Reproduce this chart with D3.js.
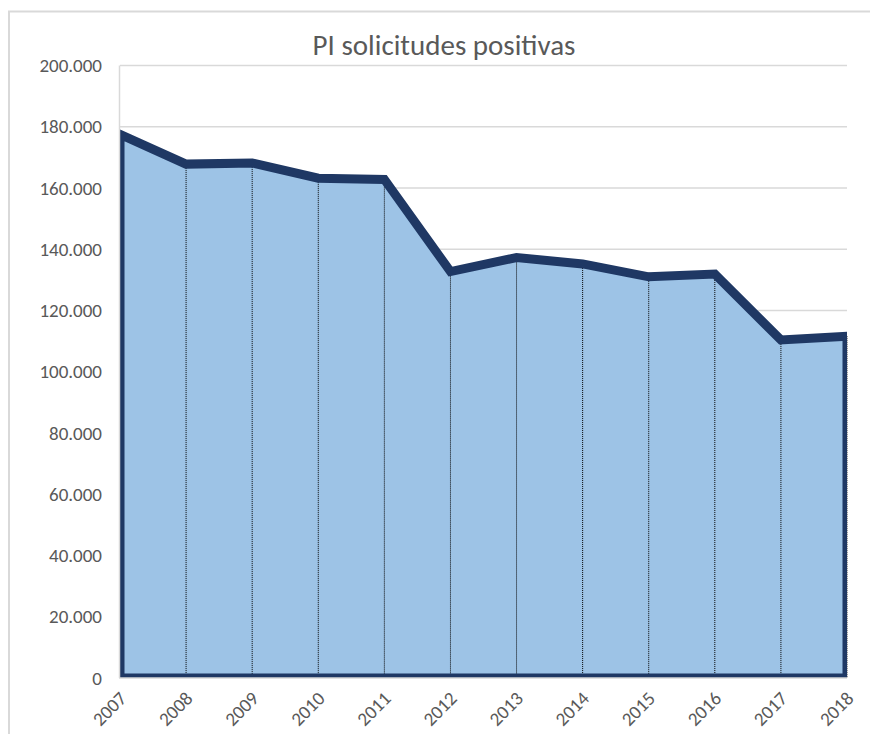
<!DOCTYPE html>
<meta charset="utf-8">
<style>
body { margin: 0; background: #fff; }
text { font-family: Carlito, Calibri, Lato, sans-serif; fill: #595959; }
.grid line { stroke: #d9d9d9; stroke-width: 1.5; }
</style>
<body>
<svg width="870" height="734"></svg>
<script src="https://d3js.org/d3.v7.min.js"></script>
<script>

var years = ["2007", "2008", "2009", "2010", "2011", "2012", "2013", "2014", "2015", "2016", "2017", "2018"];
var solicitudes = [177500, 167800, 168200, 163200, 162800, 132700, 137300, 135200, 131000, 131900, 110400, 111600];
var yTicks = [0, 20000, 40000, 60000, 80000, 100000, 120000, 140000, 160000, 180000, 200000];
var title = "PI solicitudes positivas";

var svg = d3.select("svg");

var plotLeft = 120, plotRight = 847, plotTop = 65.5, plotBottom = 678;

var x = d3.scalePoint()
    .domain(years)
    .range([plotLeft, plotRight]);

var y = d3.scaleLinear()
    .domain([0, 200000])
    .range([plotBottom, plotTop]);

var fmt = d3.formatLocale({ decimal: ",", thousands: ".", grouping: [3], currency: ["", ""] }).format(",d");

// chart frame (only top and left edges show in the crop)
svg.append("path")
    .attr("d", "M9,734V11.5H870")
    .attr("fill", "none")
    .attr("stroke", "#d9d9d9")
    .attr("stroke-width", 2);

svg.append("text")
    .attr("x", 444)
    .attr("y", 55)
    .attr("text-anchor", "middle")
    .attr("font-size", 29)
    .text(title);

svg.append("g")
    .attr("class", "grid")
  .selectAll("line")
  .data(yTicks.slice(1))
  .enter().append("line")
    .attr("x1", plotLeft)
    .attr("x2", plotRight)
    .attr("y1", function(d) { return y(d); })
    .attr("y2", function(d) { return y(d); });

svg.append("g")
  .selectAll("text")
  .data(yTicks)
  .enter().append("text")
    .attr("x", 102)
    .attr("y", function(d) { return y(d); })
    .attr("dy", "0.35em")
    .attr("text-anchor", "end")
    .attr("font-size", 19)
    .text(function(d) { return fmt(d); });

svg.append("defs").append("clipPath")
    .attr("id", "plot")
  .append("rect")
    .attr("x", plotLeft)
    .attr("y", 0)
    .attr("width", plotRight - plotLeft)
    .attr("height", plotBottom);

var area = d3.area()
    .x(function(d, i) { return x(years[i]); })
    .y0(plotBottom)
    .y1(function(d) { return y(d); });

svg.append("path")
    .datum(solicitudes)
    .attr("fill", "#9dc3e6")
    .attr("d", area);

svg.append("g")
  .selectAll("line")
  .data(solicitudes)
  .enter().append("line")
    .attr("x1", function(d, i) { return x(years[i]); })
    .attr("x2", function(d, i) { return x(years[i]); })
    .attr("y1", function(d) { return y(d); })
    .attr("y2", plotBottom)
    .attr("stroke", "#000")
    .attr("stroke-width", 1)
    .attr("stroke-dasharray", "1,1");

svg.append("path")
    .datum(solicitudes)
    .attr("clip-path", "url(#plot)")
    .attr("fill", "none")
    .attr("stroke", "#1f3864")
    .attr("stroke-width", 9)
    .attr("stroke-linejoin", "miter")
    .attr("d", area);

// axis lines
svg.append("line")
    .attr("x1", plotLeft - 0.5).attr("x2", plotLeft - 0.5)
    .attr("y1", plotTop).attr("y2", plotBottom)
    .attr("stroke", "#d9d9d9")
    .attr("stroke-width", 1.5);

svg.append("line")
    .attr("x1", plotLeft - 1).attr("x2", plotRight)
    .attr("y1", plotBottom).attr("y2", plotBottom)
    .attr("stroke", "#d9d9d9")
    .attr("stroke-width", 1.5);

svg.append("g")
  .selectAll("text")
  .data(years)
  .enter().append("text")
    .attr("transform", function(d) { return "translate(" + (x(d) + 3) + "," + (plotBottom + 17) + ") rotate(-45)"; })
    .attr("text-anchor", "end")
    .attr("dy", "0.35em")
    .attr("font-size", 19)
    .text(function(d) { return d; });

</script>
</body>
